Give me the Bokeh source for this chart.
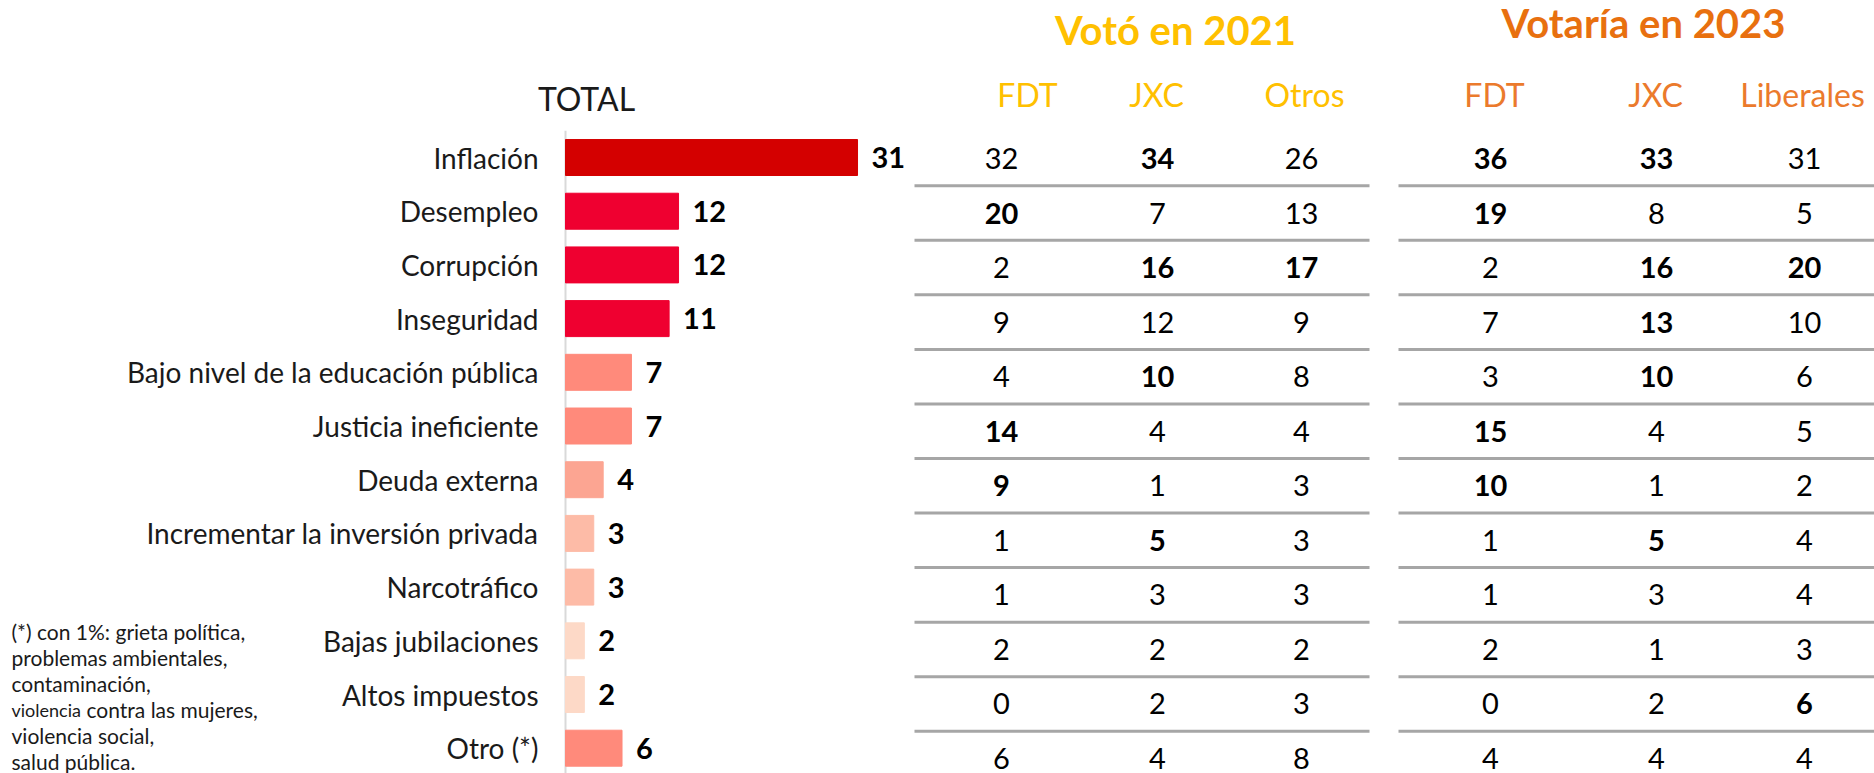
from bokeh.plotting import figure
from bokeh.models import Range1d, ColumnDataSource
from bokeh.embed import file_html
from bokeh.resources import INLINE
from bokeh.core.properties import value

# ---------------- data ----------------
categories = ["Inflación", "Desempleo", "Corrupción", "Inseguridad",
              "Bajo nivel de la educación pública", "Justicia ineficiente",
              "Deuda externa", "Incrementar la inversión privada", "Narcotráfico",
              "Bajas jubilaciones", "Altos impuestos", "Otro (*)"]
total = [31, 12, 12, 11, 7, 7, 4, 3, 3, 2, 2, 6]

fdt_2021 = [32, 20, 2, 9, 4, 14, 9, 1, 1, 2, 0, 6]
jxc_2021 = [34, 7, 16, 12, 10, 4, 1, 5, 3, 2, 2, 4]
otros_2021 = [26, 13, 17, 9, 8, 4, 3, 3, 3, 2, 3, 8]
fdt_2023 = [36, 19, 2, 7, 3, 15, 10, 1, 1, 2, 0, 4]
jxc_2023 = [33, 8, 16, 13, 10, 4, 1, 5, 3, 1, 2, 4]
lib_2023 = [31, 5, 20, 10, 6, 5, 2, 4, 4, 3, 6, 4]

# highlighted (bold) cells
hl_fdt_2021 = [0, 1, 0, 0, 0, 1, 1, 0, 0, 0, 0, 0]
hl_jxc_2021 = [1, 0, 1, 0, 1, 0, 0, 1, 0, 0, 0, 0]
hl_otros_2021 = [0, 0, 1, 0, 0, 0, 0, 0, 0, 0, 0, 0]
hl_fdt_2023 = [1, 1, 0, 0, 0, 1, 1, 0, 0, 0, 0, 0]
hl_jxc_2023 = [1, 0, 1, 1, 1, 0, 0, 1, 0, 0, 0, 0]
hl_lib_2023 = [0, 0, 1, 0, 0, 0, 0, 0, 0, 0, 1, 0]

headers_2021 = ["FDT", "JXC", "Otros"]
headers_2023 = ["FDT", "JXC", "Liberales"]
title_2021 = "Votó en 2021"
title_2023 = "Votaría en 2023"
total_title = "TOTAL"
footnote = ["(*) con 1%: grieta política,", "problemas ambientales,",
            "contaminación,", None, "violencia social,", "salud pública."]

# ---------------- styles / layout ----------------
bar_colors = ["#d40000", "#ef0030", "#ef0030", "#ef0030", "#ff8a7b", "#ff8a7b",
              "#fca592", "#fdbba7", "#fdbba7", "#fdd9c7", "#fdd9c7", "#ff8a7b"]
YELLOW = "#ffc000"
ORANGE = "#e8700f"
ORANGE_H = "#eb7a2c"
FONT = value("Lato")

W, H = 1874, 773
bar_px_per_unit = 9.42
axis_px = 565
x_start = -axis_px / bar_px_per_unit
x_end = (W - axis_px) / bar_px_per_unit

p = figure(width=W, height=H, output_backend="svg", toolbar_location=None,
           x_range=Range1d(x_start, x_end), y_range=Range1d(11.471, -2.924),
           x_axis_type=None, y_axis_type=None, min_border=0,
           min_border_left=0, min_border_right=0, min_border_top=0, min_border_bottom=0,
           outline_line_color=None, background_fill_color="white",
           border_fill_color="white")
p.grid.visible = False
p.extra_x_ranges = {"px": Range1d(0, W)}
p.extra_y_ranges = {"px": Range1d(H, 0), "tbl": Range1d(11.275, -2.896)}

idx = list(range(len(categories)))

# axis line
p.segment(x0=[0], y0=[-0.5], x1=[0], y1=[12], line_color="#d9d9d9", line_width=2)

# bars
src = ColumnDataSource(dict(y=idx, right=total, color=bar_colors, cat=categories,
                            lab=[str(v) for v in total]))
p.hbar(y="y", left=0, right="right", height=0.67, color="color", source=src)
p.text(x=0, y="y", text="cat", source=src, x_offset=-27, text_align="right",
       text_baseline="middle", text_font=FONT, text_font_size="28px", text_color="#1a1a1a")
p.text(x="right", y="y", text="lab", source=src, x_offset=14, text_align="left",
       text_baseline="middle", text_font=FONT, text_font_size="29px",
       text_font_style="bold", text_color="black")

# TOTAL header
p.text(x=[586], y=[98], text=[total_title], x_range_name="px", y_range_name="px",
       text_align="center", text_baseline="middle", text_font=FONT,
       text_font_size="32px", text_color="#1a1a1a")

# table
col_vals_x = [1001, 1157, 1301, 1490, 1656, 1804]
col_head_x = [1027, 1156, 1304, 1494, 1655, 1802]
cols = [fdt_2021, jxc_2021, otros_2021, fdt_2023, jxc_2023, lib_2023]
hls = [hl_fdt_2021, hl_jxc_2021, hl_otros_2021, hl_fdt_2023, hl_jxc_2023, hl_lib_2023]
for cx, vals, hl in zip(col_vals_x, cols, hls):
    s = ColumnDataSource(dict(x=[cx] * len(vals), y=idx, t=[str(v) for v in vals],
                              st=["bold" if h else "normal" for h in hl]))
    p.text(x="x", y="y", text="t", source=s, x_range_name="px", y_range_name="tbl",
           text_align="center", text_baseline="middle", text_font=FONT,
           text_font_size="29px", text_font_style="st", text_color="black")

# separators
seps = [k + 0.5 for k in range(len(categories) - 1)]
for x0, x1 in [(914, 1369), (1398, 1874)]:
    p.segment(x0=[x0] * len(seps), x1=[x1] * len(seps), y0=seps, y1=seps,
              x_range_name="px", y_range_name="tbl", line_color="#a6a6a6", line_width=3)

# column headers
p.text(x=col_head_x[:3], y=[94] * 3, text=headers_2021, x_range_name="px", y_range_name="px",
       text_align="center", text_baseline="middle", text_font=FONT,
       text_font_size="32px", text_color=YELLOW)
p.text(x=col_head_x[3:], y=[94] * 3, text=headers_2023, x_range_name="px", y_range_name="px",
       text_align="center", text_baseline="middle", text_font=FONT,
       text_font_size="32px", text_color=ORANGE_H)

# group titles
p.text(x=[1175], y=[29], text=[title_2021], x_range_name="px", y_range_name="px",
       text_align="center", text_baseline="middle", text_font=FONT,
       text_font_size="40px", text_font_style="bold", text_color=YELLOW)
p.text(x=[1643], y=[22], text=[title_2023], x_range_name="px", y_range_name="px",
       text_align="center", text_baseline="middle", text_font=FONT,
       text_font_size="40px", text_font_style="bold", text_color=ORANGE)

# footnote
fy = [631 + 26 * k for k in range(6)]
p.text(x=[11] * 5, y=[fy[i] for i in (0, 1, 2, 4, 5)],
       text=[footnote[i] for i in (0, 1, 2, 4, 5)], x_range_name="px", y_range_name="px",
       text_align="left", text_baseline="middle", text_font=FONT,
       text_font_size="21px", text_color="#1a1a1a")
p.text(x=[11], y=[fy[3]], text=["violencia"], x_range_name="px", y_range_name="px",
       text_align="left", text_baseline="middle", text_font=FONT,
       text_font_size="18px", text_color="#1a1a1a")
p.text(x=[86], y=[fy[3]], text=["contra las mujeres,"], x_range_name="px", y_range_name="px",
       text_align="left", text_baseline="middle", text_font=FONT,
       text_font_size="21px", text_color="#1a1a1a")

open("out.html", "w").write(file_html(p, INLINE))
